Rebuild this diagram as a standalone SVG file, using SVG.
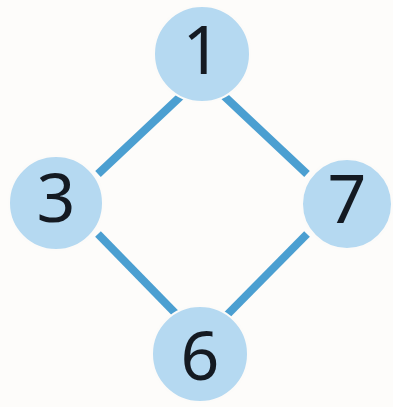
<svg xmlns="http://www.w3.org/2000/svg" width="393" height="407" viewBox="0 0 393 407">
<style>
.edge{stroke:#4b9fd1;stroke-width:8;stroke-linecap:butt;fill:none}
.node circle{fill:#b5d9f1;stroke:#fcfbf9;stroke-width:2}
.node text{font-family:"Noto Sans","DejaVu Sans",sans-serif;font-size:68px;fill:#141a22;text-anchor:middle;dominant-baseline:central}
</style>
<rect width="393" height="407" fill="#fdfcfa"/>
<g id="edges">
<line class="edge" x1="182" y1="95" x2="98" y2="174"/>
<line class="edge" x1="223" y1="95" x2="307" y2="174"/>
<line class="edge" x1="98" y1="234" x2="180" y2="318"/>
<line class="edge" x1="307" y1="234" x2="224" y2="318"/>
</g>
<g id="node1" class="node"><circle cx="202" cy="54" r="48"/><text x="202" y="47">1</text></g>
<g id="node3" class="node"><circle cx="56" cy="203" r="47"/><text x="56" y="195">3</text></g>
<g id="node7" class="node"><circle cx="347" cy="204" r="45"/><text x="347" y="196">7</text></g>
<g id="node6" class="node"><circle cx="200" cy="354" r="48"/><text x="200" y="353">6</text></g>
</svg>
